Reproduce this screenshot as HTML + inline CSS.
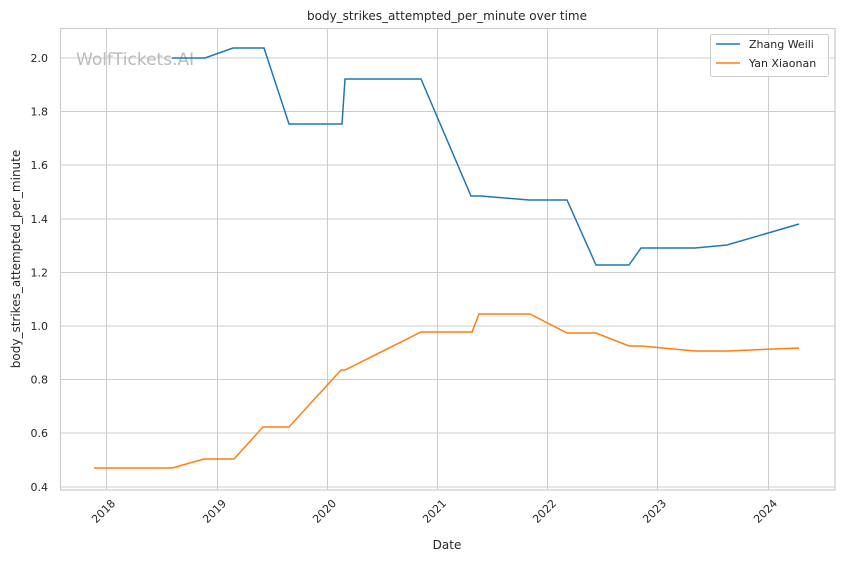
<!DOCTYPE html>
<html><head><meta charset="utf-8"><style>
body{margin:0;background:#fff;}
svg text{font-family:"DejaVu Sans","Liberation Sans",sans-serif;fill:#262626;}
</style></head><body>
<svg width="844" height="561" viewBox="0 0 844 561" xmlns="http://www.w3.org/2000/svg">
<rect width="844" height="561" fill="#fff"/>
<g stroke="#cccccc" stroke-width="1">
<line x1="106.5" y1="28" x2="106.5" y2="490"/>
<line x1="217.5" y1="28" x2="217.5" y2="490"/>
<line x1="327.5" y1="28" x2="327.5" y2="490"/>
<line x1="437.5" y1="28" x2="437.5" y2="490"/>
<line x1="547.5" y1="28" x2="547.5" y2="490"/>
<line x1="657.5" y1="28" x2="657.5" y2="490"/>
<line x1="768.5" y1="28" x2="768.5" y2="490"/>
<line x1="60" y1="58" x2="835" y2="58"/>
<line x1="60" y1="111.5" x2="835" y2="111.5"/>
<line x1="60" y1="165" x2="835" y2="165"/>
<line x1="60" y1="219" x2="835" y2="219"/>
<line x1="60" y1="272.5" x2="835" y2="272.5"/>
<line x1="60" y1="326" x2="835" y2="326"/>
<line x1="60" y1="379.5" x2="835" y2="379.5"/>
<line x1="60" y1="433" x2="835" y2="433"/>
<line x1="60" y1="487" x2="835" y2="487"/>
</g>
<rect x="60.5" y="28.5" width="774.5" height="461.5" fill="none" stroke="#cccccc" stroke-width="1.2"/>
<text x="76" y="65" font-size="17" style="fill:#bbbbbb">WolfTickets.AI</text>
<polyline fill="none" stroke="#1f77b4" stroke-width="1.5" points="172,58 205,58 233,48 264,48 289,124 342,124 345,79 421,79 471,196 481,196 529,200 567,200 596,265 629,265 641,248 695,248 727,245 799,224"/>
<polyline fill="none" stroke="#ff7f0e" stroke-width="1.5" points="94,468 172,468 204,459 234,459 263,427 289,427 341,370 345,370 421,332 472,332 479,314 530,314 567,333 596,333 629,346 641,346 695,351 727,351 799,348"/>
<g font-size="11" text-anchor="end">
<text x="48" y="62">2.0</text><text x="48" y="115.5">1.8</text><text x="48" y="169">1.6</text><text x="48" y="223">1.4</text><text x="48" y="276.5">1.2</text><text x="48" y="330">1.0</text><text x="48" y="383.5">0.8</text><text x="48" y="437">0.6</text><text x="48" y="491">0.4</text>
</g>
<g font-size="11" text-anchor="end">
<text transform="translate(116,504) rotate(-45)">2018</text>
<text transform="translate(227,504) rotate(-45)">2019</text>
<text transform="translate(337,504) rotate(-45)">2020</text>
<text transform="translate(447,504) rotate(-45)">2021</text>
<text transform="translate(557,504) rotate(-45)">2022</text>
<text transform="translate(667,504) rotate(-45)">2023</text>
<text transform="translate(778,504) rotate(-45)">2024</text>
</g>
<text x="447" y="549" font-size="12" text-anchor="middle">Date</text>
<text transform="translate(20,259) rotate(-90)" font-size="12" text-anchor="middle">body_strikes_attempted_per_minute</text>
<text x="447" y="20" font-size="12" text-anchor="middle">body_strikes_attempted_per_minute over time</text>
<rect x="710.5" y="34.5" width="118" height="42" rx="2" fill="#fff" fill-opacity="0.8" stroke="#cccccc"/>
<line x1="716" y1="44" x2="740" y2="44" stroke="#1f77b4" stroke-width="1.5"/>
<line x1="716" y1="63" x2="740" y2="63" stroke="#ff7f0e" stroke-width="1.5"/>
<text x="749" y="48" font-size="11">Zhang Weili</text>
<text x="749" y="67" font-size="11">Yan Xiaonan</text>
</svg>
</body></html>
